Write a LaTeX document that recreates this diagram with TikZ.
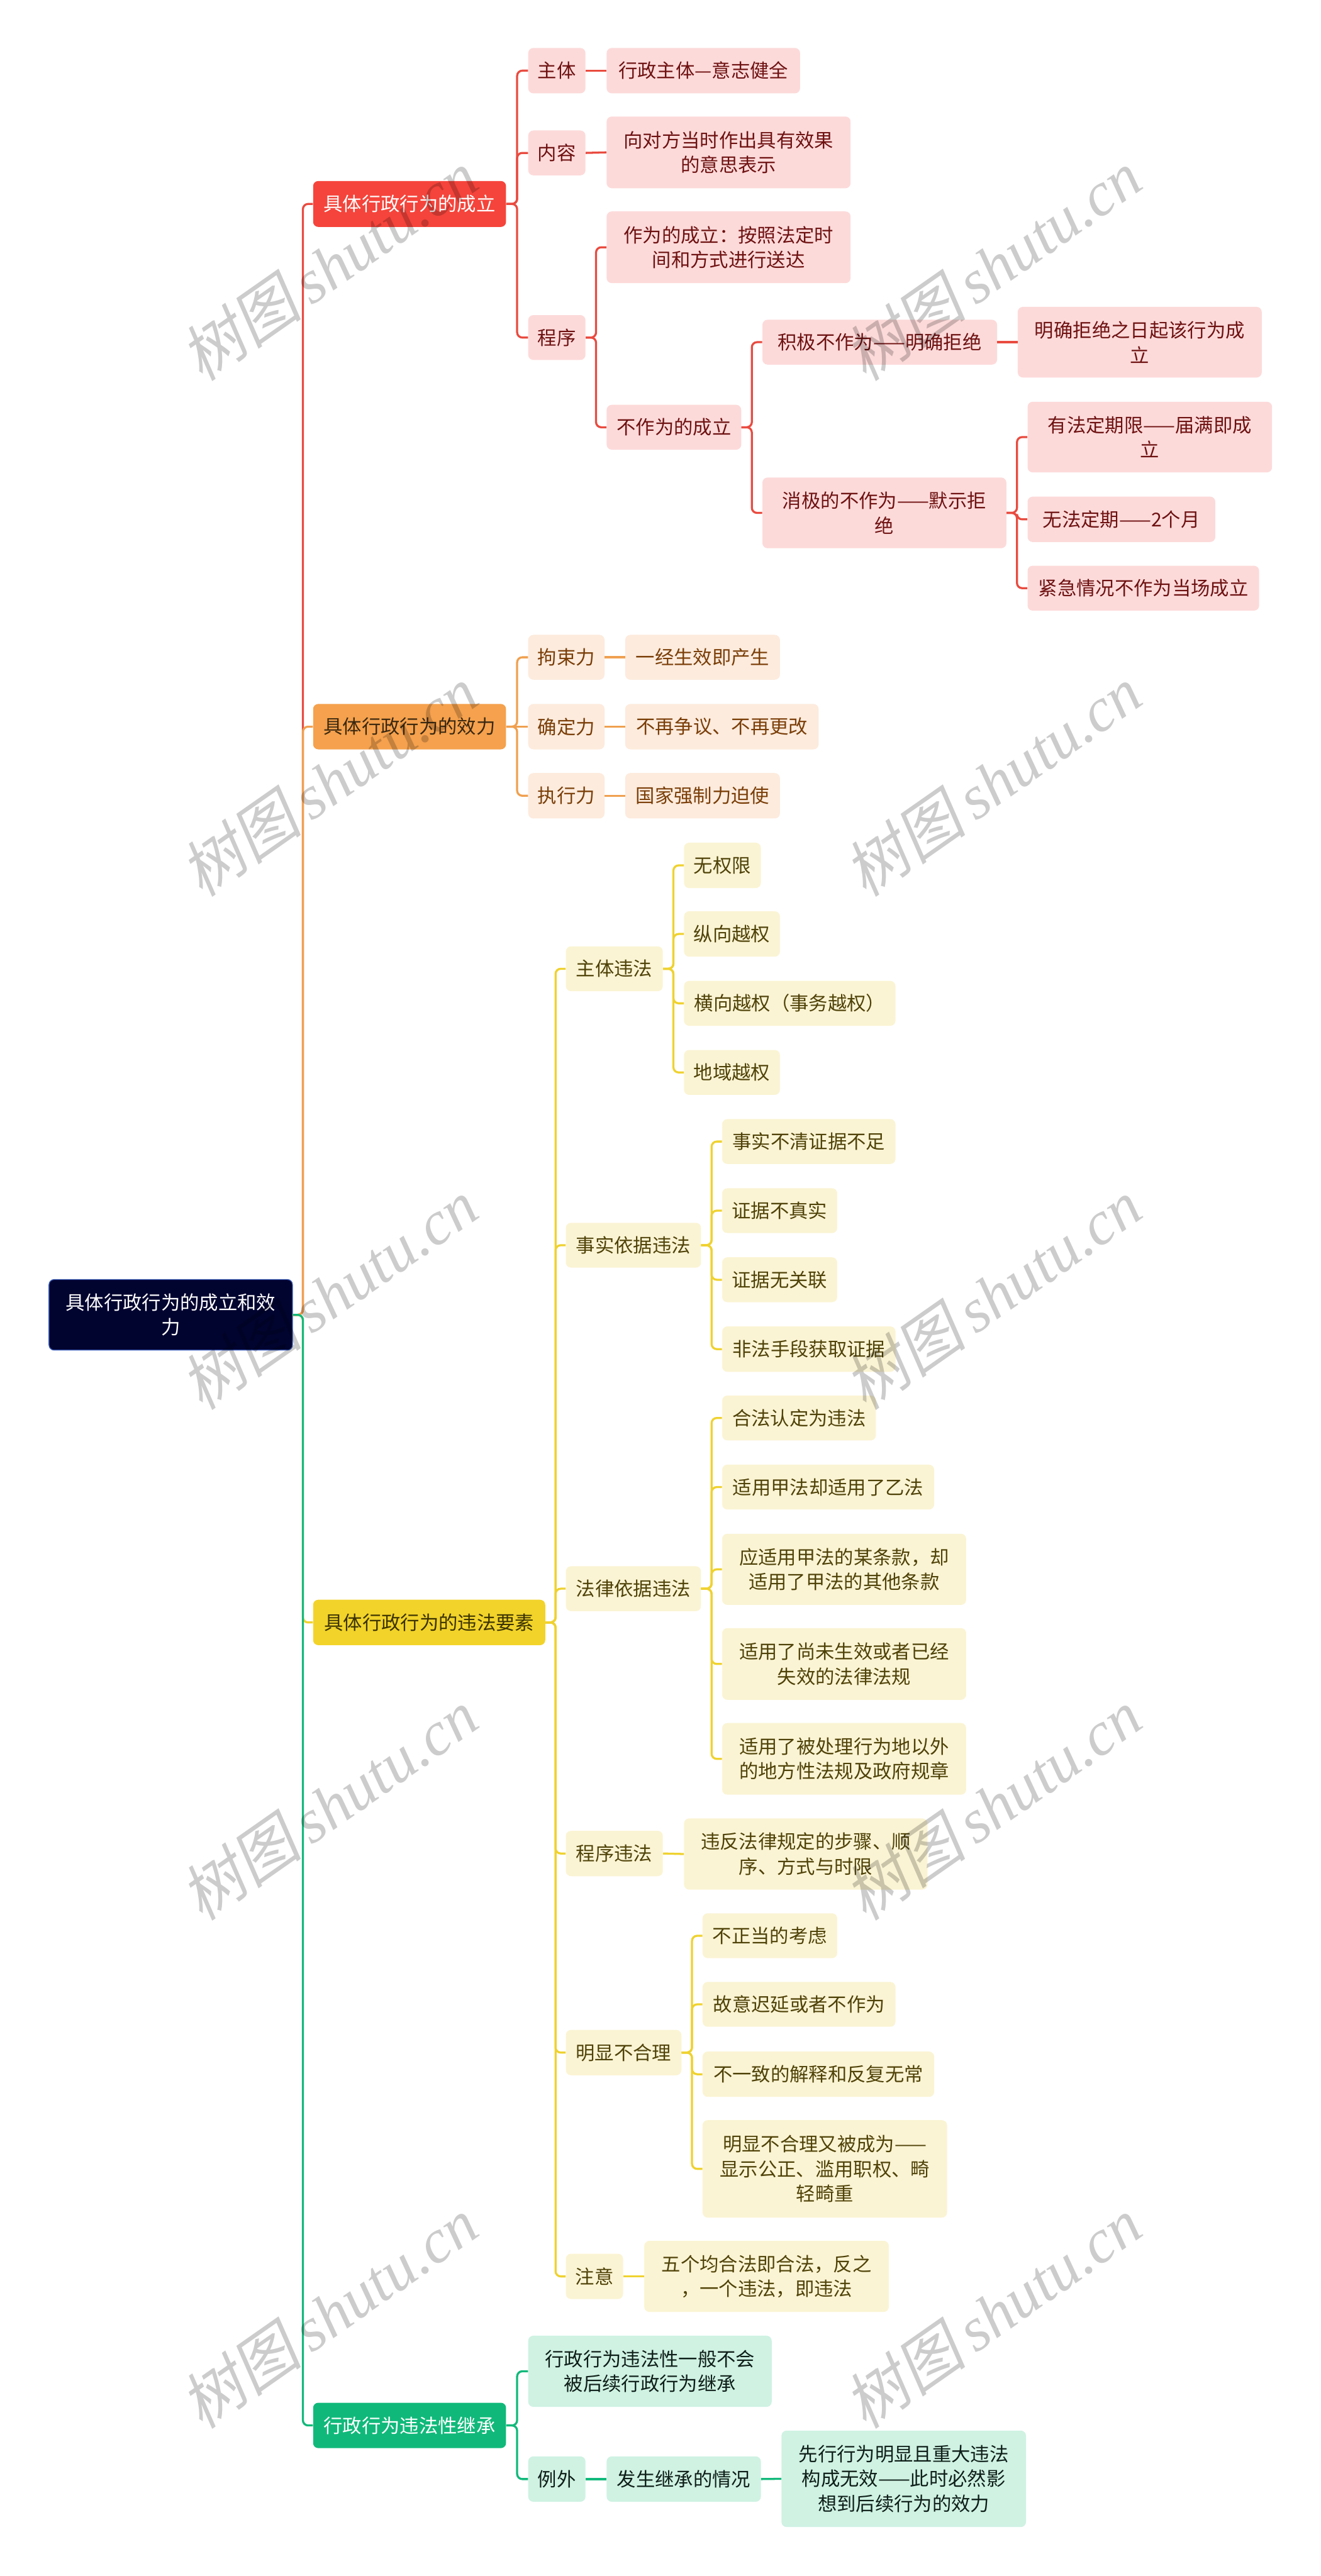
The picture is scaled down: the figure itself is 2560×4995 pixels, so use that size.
\documentclass[tikz,border=0pt]{standalone}
\usepackage{fontspec}
\newfontfamily\cjk{Noto Sans CJK SC}
\newfontfamily\wmcjk[FakeSlant=0.2]{Noto Sans CJK SC}
\newfontfamily\wmlat{Liberation Serif}
\usetikzlibrary{calc}
\definecolor{rootfill}{HTML}{020430}
\definecolor{rootdraw}{HTML}{3C5CB8}
\definecolor{redfill}{HTML}{F5443B}
\definecolor{redline}{HTML}{E94B40}
\definecolor{redlight}{HTML}{FDDADA}
\definecolor{redtext}{HTML}{6E1111}
\definecolor{orfill}{HTML}{F5A14D}
\definecolor{orline}{HTML}{F0A050}
\definecolor{orlight}{HTML}{FDEBDD}
\definecolor{ortext}{HTML}{7A3E08}
\definecolor{ortop}{HTML}{3A2810}
\definecolor{yefill}{HTML}{F2D32A}
\definecolor{yeline}{HTML}{EFD230}
\definecolor{yelight}{HTML}{FBF4D4}
\definecolor{yetext}{HTML}{4F4208}
\definecolor{yetop}{HTML}{3A3200}
\definecolor{grfill}{HTML}{10B97A}
\definecolor{grline}{HTML}{12B97B}
\definecolor{grlight}{HTML}{CFF2E3}
\definecolor{grtext}{HTML}{0E1E18}
\newcommand\nd[7]{\node[box,#2,minimum width={(#5-#3)*0.5pt},minimum height={(#6-#4)*0.5pt}] (#1) at ({(#3+#5)/2},{(#4+#6)/2}) {#7};}
\newcommand\cn[3]{\draw[conn,#1] (#2.east) -- ($(#2.east)!.5!(#2.east-|#3.west)$) |- (#3.west);}
\newcommand\cs[3]{\draw[conn,#1] (#2.east) -- (#3.west);}
\begin{document}
\begin{tikzpicture}[x=0.5pt,y=-0.5pt,
  box/.style={rounded corners=5pt,inner sep=0pt,align=center,font={\cjk\fontsize{18.5pt}{24pt}\selectfont}},
  rootbox/.style={fill=rootfill,draw=rootdraw,line width=0.8pt,text=white},
  redtop/.style={fill=redfill,text=white},
  redsub/.style={fill=redlight,text=redtext},
  ortopb/.style={fill=orfill,text=ortop},
  orsub/.style={fill=orlight,text=ortext},
  yetopb/.style={fill=yefill,text=yetop},
  yesub/.style={fill=yelight,text=yetext},
  grtop/.style={fill=grfill,text=white},
  grsub/.style={fill=grlight,text=grtext},
  conn/.style={line width=2pt,rounded corners=5pt},
  rl/.style={draw=redline},
  ol/.style={draw=orline},
  yl/.style={draw=yeline},
  gl/.style={draw=grline},
  wm/.style={text=black,opacity=0.2,rotate=35,inner sep=0pt}
]
\fill[white] (0,0) rectangle (2560,4995);
\useasboundingbox (0,0) rectangle (2560,4995);

% root
\nd{R}{rootbox}{95}{2481}{567}{2618}{具体行政行为的成立和效\\力}
% level 2
\nd{A}{redtop}{607}{351}{981}{440}{具体行政行为的成立}
\nd{B}{ortopb}{607}{1365}{981}{1453}{具体行政行为的效力}
\nd{C}{yetopb}{607}{3102}{1057}{3190}{具体行政行为的违法要素}
\nd{D}{grtop}{607}{4659}{981}{4747}{行政行为违法性继承}

% red branch
\nd{A1}{redsub}{1024}{93}{1135}{181}{主体}
\nd{A1a}{redsub}{1176}{93}{1551}{181}{行政主体—意志健全}
\nd{A2}{redsub}{1024}{253}{1135}{340}{内容}
\nd{A2a}{redsub}{1176}{226}{1649}{365}{向对方当时作出具有效果\\的意思表示}
\nd{A3}{redsub}{1024}{611}{1135}{698}{程序}
\nd{A3a}{redsub}{1176}{410}{1649}{549}{作为的成立：按照法定时\\间和方式进行送达}
\nd{A3b}{redsub}{1176}{785}{1437}{872}{不作为的成立}
\nd{A3b1}{redsub}{1478}{620}{1933}{707}{积极不作为——明确拒绝}
\nd{A3b1a}{redsub}{1973}{595}{2446}{732}{明确拒绝之日起该行为成\\立}
\nd{A3b2}{redsub}{1478}{926}{1951}{1063}{消极的不作为——默示拒\\绝}
\nd{A3b2a}{redsub}{1992}{779}{2466}{916}{有法定期限——届满即成\\立}
\nd{A3b2b}{redsub}{1992}{963}{2356}{1051}{无法定期——2个月}
\nd{A3b2c}{redsub}{1992}{1097}{2441}{1184}{紧急情况不作为当场成立}

% orange branch
\nd{B1}{orsub}{1024}{1231}{1172}{1318}{拘束力}
\nd{B1a}{orsub}{1212}{1231}{1512}{1318}{一经生效即产生}
\nd{B2}{orsub}{1024}{1365}{1172}{1453}{确定力}
\nd{B2a}{orsub}{1212}{1365}{1587}{1453}{不再争议、不再更改}
\nd{B3}{orsub}{1024}{1499}{1172}{1587}{执行力}
\nd{B3a}{orsub}{1212}{1499}{1512}{1587}{国家强制力迫使}

% yellow branch
\nd{C1}{yesub}{1097}{1835}{1285}{1922}{主体违法}
\nd{C1a}{yesub}{1326}{1634}{1475}{1722}{无权限}
\nd{C1b}{yesub}{1326}{1767}{1512}{1855}{纵向越权}
\nd{C1c}{yesub}{1326}{1902}{1736}{1989}{横向越权（事务越权）}
\nd{C1d}{yesub}{1326}{2036}{1512}{2123}{地域越权}
\nd{C2}{yesub}{1097}{2371}{1359}{2458}{事实依据违法}
\nd{C2a}{yesub}{1400}{2170}{1736}{2257}{事实不清证据不足}
\nd{C2b}{yesub}{1400}{2304}{1623}{2391}{证据不真实}
\nd{C2c}{yesub}{1400}{2438}{1623}{2525}{证据无关联}
\nd{C2d}{yesub}{1400}{2572}{1736}{2660}{非法手段获取证据}
\nd{C3}{yesub}{1097}{3037}{1359}{3124}{法律依据违法}
\nd{C3a}{yesub}{1400}{2706}{1698}{2793}{合法认定为违法}
\nd{C3b}{yesub}{1400}{2840}{1811}{2927}{适用甲法却适用了乙法}
\nd{C3c}{yesub}{1400}{2974}{1873}{3112}{应适用甲法的某条款，却\\适用了甲法的其他条款}
\nd{C3d}{yesub}{1400}{3157}{1873}{3296}{适用了尚未生效或者已经\\失效的法律法规}
\nd{C3e}{yesub}{1400}{3341}{1873}{3480}{适用了被处理行为地以外\\的地方性法规及政府规章}
\nd{C4}{yesub}{1097}{3550}{1285}{3638}{程序违法}
\nd{C4a}{yesub}{1326}{3526}{1798}{3664}{违反法律规定的步骤、顺\\序、方式与时限}
\nd{C5}{yesub}{1097}{3936}{1321}{4024}{明显不合理}
\nd{C5a}{yesub}{1362}{3710}{1623}{3797}{不正当的考虑}
\nd{C5b}{yesub}{1362}{3843}{1736}{3930}{故意迟延或者不作为}
\nd{C5c}{yesub}{1362}{3978}{1811}{4066}{不一致的解释和反复无常}
\nd{C5d}{yesub}{1362}{4111}{1836}{4300}{明显不合理又被成为——\\显示公正、滥用职权、畸\\轻畸重}
\nd{C6}{yesub}{1097}{4370}{1208}{4458}{注意}
\nd{C6a}{yesub}{1249}{4345}{1723}{4483}{五个均合法即合法，反之\\，一个违法，即违法}

% green branch
\nd{D1}{grsub}{1024}{4529}{1496}{4667}{行政行为违法性一般不会\\被后续行政行为继承}
\nd{D2}{grsub}{1024}{4763}{1135}{4851}{例外}
\nd{D2a}{grsub}{1176}{4763}{1475}{4851}{发生继承的情况}
\nd{D2b}{grsub}{1515}{4713}{1989}{4900}{先行行为明显且重大违法\\构成无效——此时必然影\\想到后续行为的效力}

% connectors from root
\cn{rl}{R}{A}
\cn{ol}{R}{B}
\cn{yl}{R}{C}
\cn{gl}{R}{D}
% red
\cn{rl}{A}{A1}
\cn{rl}{A}{A2}
\cn{rl}{A}{A3}
\cs{rl}{A1}{A1a}
\cs{rl}{A2}{A2a}
\cn{rl}{A3}{A3a}
\cn{rl}{A3}{A3b}
\cn{rl}{A3b}{A3b1}
\cn{rl}{A3b}{A3b2}
\cs{rl}{A3b1}{A3b1a}
\cn{rl}{A3b2}{A3b2a}
\cn{rl}{A3b2}{A3b2b}
\cn{rl}{A3b2}{A3b2c}
% orange
\cn{ol}{B}{B1}
\cs{ol}{B}{B2}
\cn{ol}{B}{B3}
\cs{ol}{B1}{B1a}
\cs{ol}{B2}{B2a}
\cs{ol}{B3}{B3a}
% yellow
\cn{yl}{C}{C1}
\cn{yl}{C}{C2}
\cn{yl}{C}{C3}
\cn{yl}{C}{C4}
\cn{yl}{C}{C5}
\cn{yl}{C}{C6}
\cn{yl}{C1}{C1a}
\cn{yl}{C1}{C1b}
\cn{yl}{C1}{C1c}
\cn{yl}{C1}{C1d}
\cn{yl}{C2}{C2a}
\cn{yl}{C2}{C2b}
\cn{yl}{C2}{C2c}
\cn{yl}{C2}{C2d}
\cn{yl}{C3}{C3a}
\cn{yl}{C3}{C3b}
\cn{yl}{C3}{C3c}
\cn{yl}{C3}{C3d}
\cn{yl}{C3}{C3e}
\cs{yl}{C4}{C4a}
\cn{yl}{C5}{C5a}
\cn{yl}{C5}{C5b}
\cn{yl}{C5}{C5c}
\cn{yl}{C5}{C5d}
\cs{yl}{C6}{C6a}
% green
\cn{gl}{D}{D1}
\cn{gl}{D}{D2}
\cs{gl}{D2}{D2a}
\cs{gl}{D2a}{D2b}

% watermarks
\foreach \wy [count=\i] in {515,1515,2510,3500,4485}{
  \node[wm] (wl\i) at (637,\wy) {\wmcjk\fontsize{60pt}{60pt}\selectfont 树图\,\wmlat\itshape shutu.cn};
  \node[wm] (wr\i) at (1924,\wy) {\wmcjk\fontsize{60pt}{60pt}\selectfont 树图\,\wmlat\itshape shutu.cn};
}
\end{tikzpicture}
\end{document}
